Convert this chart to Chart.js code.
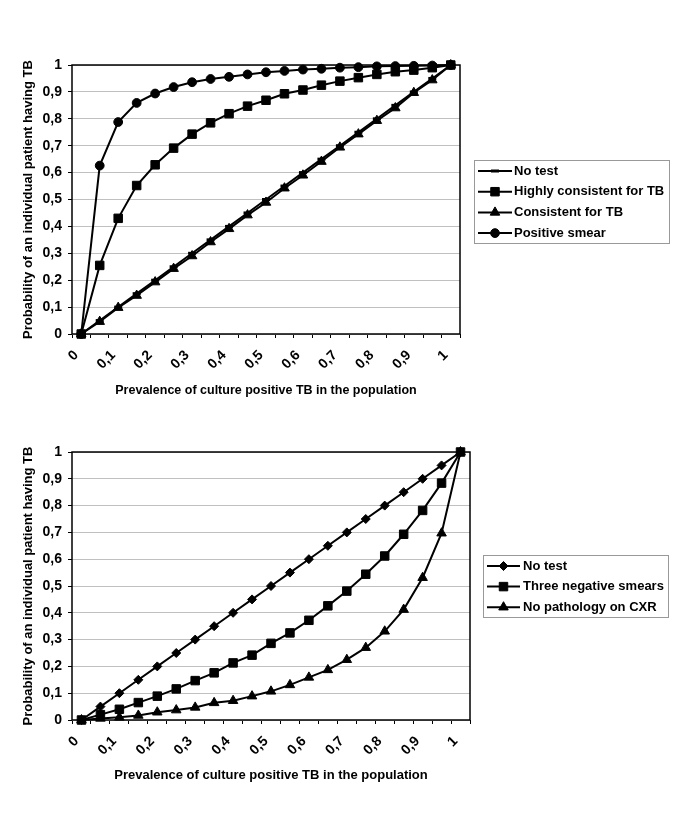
<!DOCTYPE html>
<html lang="en">
<head>
  <meta charset="UTF-8">
  <title>Probability of TB vs prevalence</title>
  <script src="https://cdn.jsdelivr.net/npm/chart.js"></script>
  <style>
    body {
      margin: 0;
      background: #fff;
    }
    .panel {
      position: absolute;
      left: 0;
      width: 685px;
      height: 410px;
    }
    #top { top: 0; }
    #bottom { top: 410px; }
  </style>
</head>
<body>

<div class="panel" id="top"><canvas id="chart1" width="685" height="410"></canvas></div>
<div class="panel" id="bottom"><canvas id="chart2" width="685" height="410"></canvas></div>

<script>
  // prevalence of culture positive TB (categories)
  const prevalence = [0, 0.05, 0.1, 0.15, 0.2, 0.25, 0.3, 0.35, 0.4, 0.45, 0.5,
                      0.55, 0.6, 0.65, 0.7, 0.75, 0.8, 0.85, 0.9, 0.95, 1];
  const xTickLabels = ['0', '', '0,1', '', '0,2', '', '0,3', '', '0,4', '', '0,5',
                       '', '0,6', '', '0,7', '', '0,8', '', '0,9', '', '1'];
  const yTickLabels = ['0', '0,1', '0,2', '0,3', '0,4', '0,5', '0,6', '0,7', '0,8', '0,9', '1'];

  // top chart
  const noTest1 = [0, 0.05, 0.1, 0.15, 0.2, 0.25, 0.3, 0.35, 0.4, 0.45, 0.5,
                   0.55, 0.6, 0.65, 0.7, 0.75, 0.8, 0.85, 0.9, 0.95, 1];
  const highlyConsistent = [0, 0.255, 0.43, 0.552, 0.629, 0.691, 0.743, 0.785, 0.819, 0.847, 0.869,
                            0.893, 0.907, 0.925, 0.94, 0.953, 0.965, 0.975, 0.981, 0.99, 1];
  const consistent = [0, 0.046, 0.098, 0.143, 0.193, 0.243, 0.29, 0.342, 0.391, 0.442, 0.489,
                      0.542, 0.59, 0.641, 0.694, 0.743, 0.793, 0.84, 0.897, 0.944, 1];
  const positiveSmear = [0, 0.626, 0.788, 0.859, 0.894, 0.918, 0.936, 0.948, 0.956, 0.965, 0.973,
                         0.978, 0.983, 0.986, 0.99, 0.992, 0.995, 0.996, 0.997, 0.998, 1];

  // bottom chart
  const noTest2 = [0, 0.05, 0.1, 0.15, 0.2, 0.25, 0.3, 0.35, 0.4, 0.45, 0.5,
                   0.55, 0.6, 0.65, 0.7, 0.75, 0.8, 0.85, 0.9, 0.95, 1];
  const threeNegSmears = [0, 0.02, 0.04, 0.065, 0.089, 0.116, 0.147, 0.176, 0.213, 0.242, 0.286,
                          0.325, 0.372, 0.426, 0.481, 0.544, 0.612, 0.693, 0.782, 0.884, 1];
  const noPathologyCXR = [0, 0.006, 0.01, 0.017, 0.029, 0.037, 0.047, 0.064, 0.072, 0.089, 0.107,
                          0.131, 0.159, 0.187, 0.225, 0.27, 0.331, 0.412, 0.531, 0.697, 1];

  const FONT = '"Liberation Sans", Arial, sans-serif';
  Chart.defaults.font.family = FONT;
  Chart.defaults.font.weight = 'bold';
  Chart.defaults.color = '#000';

  // plot border (Excel style) + boxed legend on the right
  const excelFrame = {
    id: 'excelFrame',
    beforeDatasetsDraw(chart) {
      const { ctx, chartArea: a } = chart;
      ctx.save();
      ctx.strokeStyle = '#000';
      ctx.lineWidth = 1.5;
      ctx.strokeRect(a.left, a.top, a.right - a.left, a.bottom - a.top);
      ctx.restore();
    },
    afterDraw(chart, args, opts) {
      const L = opts.legend;
      if (!L) return;
      const ctx = chart.ctx;
      ctx.save();
      ctx.strokeStyle = '#999';
      ctx.lineWidth = 1;
      ctx.strokeRect(L.x + 0.5, L.y + 0.5, L.w, L.h);
      chart.data.datasets.forEach((ds, i) => {
        const y = L.firstRow + i * L.rowGap;
        ctx.strokeStyle = '#000';
        ctx.fillStyle = '#000';
        ctx.lineWidth = 2;
        ctx.beginPath();
        ctx.moveTo(L.lineX0, y);
        ctx.lineTo(L.lineX1, y);
        ctx.stroke();
        if (Chart.helpers && Chart.helpers.drawPoint) {
          ctx.lineWidth = ds.pointBorderWidth || 1;
          Chart.helpers.drawPoint(ctx, {
            pointStyle: ds.pointStyle,
            radius: ds.pointRadius,
            borderWidth: ds.pointBorderWidth || 1,
            rotation: 0
          }, (L.lineX0 + L.lineX1) / 2, y);
        }
        ctx.font = 'bold 13px ' + FONT;
        ctx.textBaseline = 'middle';
        ctx.textAlign = 'left';
        ctx.fillText(ds.label, L.textX, y);
      });
      ctx.restore();
    }
  };

  function series(label, data, style, radius, extra) {
    return Object.assign({
      label: label,
      data: data,
      borderColor: '#000',
      backgroundColor: '#000',
      borderWidth: 2,
      pointStyle: style,
      pointRadius: radius,
      pointBorderWidth: 1,
      pointBackgroundColor: '#000',
      pointBorderColor: '#000',
      tension: 0,
      clip: false
    }, extra || {});
  }

  function makeChart(id, datasets, pad, legend) {
    return new Chart(document.getElementById(id), {
      type: 'line',
      data: { labels: prevalence.map(String), datasets: datasets },
      plugins: [excelFrame],
      options: {
        responsive: false,
        animation: false,
        layout: { padding: pad.padding },
        plugins: {
          legend: { display: false },
          tooltip: { enabled: false },
          excelFrame: { legend: legend }
        },
        scales: {
          x: {
            type: 'category',
            offset: true,
            afterFit: s => { s.height = pad.xHeight; },
            grid: {
              offset: true,
              drawOnChartArea: false,
              color: '#000',
              tickLength: 4
            },
            border: { display: false },
            ticks: {
              autoSkip: false,
              minRotation: 45,
              maxRotation: 45,
              padding: 9,
              labelOffset: -5,
              font: { size: 14 },
              callback: (v, i) => xTickLabels[i]
            },
            title: {
              display: true,
              text: 'Prevalence of culture positive TB in the population',
              font: { size: pad.titleSize }
            }
          },
          y: {
            min: 0,
            max: 1,
            afterFit: s => { s.width = pad.yWidth; },
            grid: {
              color: '#c0c0c0',
              tickColor: '#000',
              tickLength: 4
            },
            border: { display: false },
            ticks: {
              stepSize: 0.1,
              padding: 6,
              font: { size: 14 },
              callback: (v, i) => yTickLabels[i]
            },
            title: {
              display: true,
              text: 'Probability of an individual patient having TB',
              font: { size: 13 }
            }
          }
        }
      }
    });
  }

  makeChart('chart1', [
    series('No test', noTest1, 'line', 4, { pointBorderWidth: 3 }),
    series('Highly consistent for TB', highlyConsistent, 'rect', 6),
    series('Consistent for TB', consistent, 'triangle', 5.5),
    series('Positive smear', positiveSmear, 'circle', 4.4)
  ], {
    padding: { left: 17, top: 65, right: 225, bottom: 8 },
    yWidth: 55,
    xHeight: 68,
    titleSize: 12.5
  }, {
    x: 474, y: 160, w: 195, h: 83,
    firstRow: 171, rowGap: 20.7,
    lineX0: 478, lineX1: 512, textX: 514
  });

  makeChart('chart2', [
    series('No test', noTest2, 'rectRot', 4.5),
    series('Three negative smears', threeNegSmears, 'rect', 6),
    series('No pathology on CXR', noPathologyCXR, 'triangle', 5.5)
  ], {
    padding: { left: 17, top: 42, right: 215, bottom: 33 },
    yWidth: 55,
    xHeight: 67,
    titleSize: 13
  }, {
    x: 483, y: 145, w: 185, h: 62,
    firstRow: 156, rowGap: 20.6,
    lineX0: 487, lineX1: 520, textX: 523
  });
</script>
</body>
</html>
